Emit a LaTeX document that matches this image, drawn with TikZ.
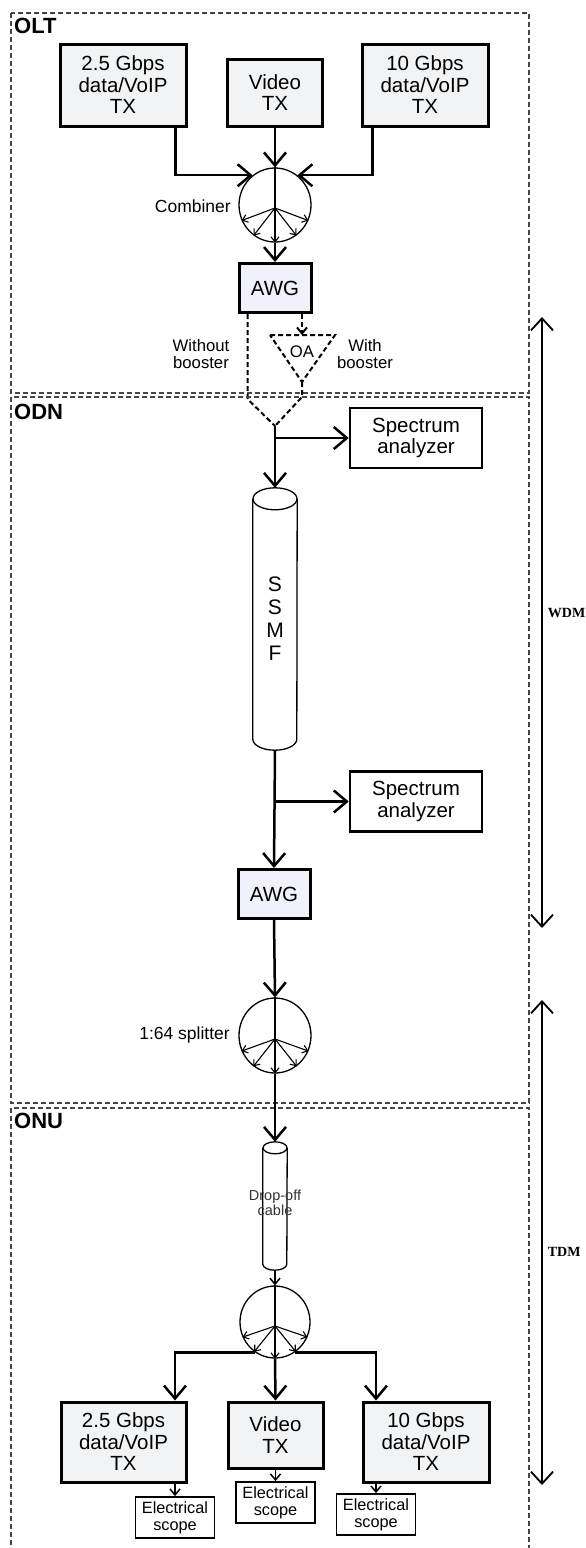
\documentclass[tikz,border=0pt]{standalone}
\usepackage{fontspec}
\setmainfont{Liberation Sans}
\newfontfamily\labelserif{Liberation Serif}
\usetikzlibrary{arrows.meta,shapes.geometric}

\definecolor{txfill}{RGB}{242,243,245}
\definecolor{awgfill}{RGB}{241,241,251}
\definecolor{zonegray}{RGB}{70,70,70}

\tikzset{
  zone/.style={draw=zonegray, line width=1.3pt, dash pattern=on 5pt off 3pt},
  zonetitle/.style={anchor=west, inner sep=0pt, font=\fontsize{22}{24}\selectfont\bfseries},
  txbox/.style={draw, line width=3pt, fill=txfill, align=center, inner sep=0pt, font=\fontsize{20.5}{21.5}\selectfont},
  awgbox/.style={draw, line width=3pt, fill=awgfill, minimum width=72pt, minimum height=49pt, inner sep=0pt, font=\fontsize{20.5}{22}\selectfont},
  specbox/.style={draw, line width=2.5pt, align=center, minimum width=132pt, minimum height=60pt, inner sep=0pt, font=\fontsize{20.5}{21.5}\selectfont},
  scopebox/.style={draw, line width=1.8pt, align=center, minimum width=79pt, minimum height=41pt, inner sep=0pt, font=\fontsize{16.3}{17}\selectfont},
  coupler/.style={draw, ellipse, line width=1.3pt, minimum width=72pt, minimum height=74pt, inner sep=0pt},
  fibreline/.style={line width=1.3pt},
  lbl/.style={inner sep=0pt, align=center, font=\fontsize{17.5}{18}\selectfont},
  smalllbl/.style={inner sep=0pt, align=center, font=\fontsize{16.7}{17}\selectfont},
  sig/.style={line width=2.5pt, -{Straight Barb[length=13pt,width=22pt]}},
  thinsig/.style={line width=1.5pt, -{Straight Barb[length=6pt,width=10pt]}},
  fanarrow/.style={line width=1.1pt, -{Straight Barb[length=5pt,width=8pt]}},
  boostpath/.style={line width=2pt, dash pattern=on 5pt off 3pt},
  spanarrow/.style={line width=1.8pt, {Straight Barb[length=12pt,width=22pt]}-{Straight Barb[length=12pt,width=22pt]}},
  spanlbl/.style={right=5pt, inner sep=0pt, font={\labelserif\bfseries\fontsize{14}{14}\selectfont}},
}

\begin{document}
\begin{tikzpicture}[x=1pt, y=-1pt]
  \clip (0,0) rectangle (586,1548);

  % OLT
  \draw [zone] (11,13) rectangle (529,393);
  \node [zonetitle] (olt) at (14,26) {OLT};
  \node [txbox, minimum width=126pt, minimum height=82pt] (tx25) at (123,85) {2.5 Gbps\\data/VoIP\\TX};
  \node [txbox, minimum width=95pt, minimum height=67pt] (txvid) at (275,92.5) {Video\\TX};
  \node [txbox, minimum width=126pt, minimum height=82pt] (tx10) at (425,85) {10 Gbps\\data/VoIP\\TX};
  \node [coupler] (comb) at (275,205) {};
  \coordinate (combhub) at ([yshift=-3pt]comb.center);
  \node [lbl, anchor=east] (combtxt) at (231,206) {Combiner};
  \node [awgbox] (awg1) at (275,288) {AWG};

  \draw [sig] ([xshift=-12pt]tx25.south east) |- (comb.127);
  \draw [sig] (txvid.south) -- (comb.north);
  \draw [sig] ([xshift=12pt]tx10.south west) |- (comb.53);
  \draw [line width=1.3pt] (comb.north) -- (combhub);
  \foreach \a in {205,235,270,305,335}
    \draw [fanarrow] (combhub) -- (comb.\a);
  \draw [sig] (comb.south) -- (awg1.north);

  % booster branch
  \coordinate (oatl) at (270,335);
  \coordinate (oatr) at (335,335);
  \coordinate (oaapex) at (302,382);
  \coordinate (join) at (275,426);
  \draw [boostpath] (oatl) -- (oatr) -- (oaapex) -- cycle;
  \node [smalllbl] (oa) at (302,352) {OA};
  \node [smalllbl] (nobst) at (201,354) {Without\\booster};
  \node [smalllbl] (wbst) at (365,354) {With\\booster};
  \draw [boostpath, -{Straight Barb[length=6pt,width=10pt]}] (awg1.south -| oa) -- (oa |- oatl);
  \draw [boostpath] ([xshift=10pt]awg1.south west) -- ++(0,85) -- (join);
  \draw [boostpath] (oaapex) -- ++(0,15) -- (join);

  % ODN
  \draw [zone] (11,397) rectangle (529,1103);
  \node [zonetitle] (odn) at (14,411.5) {ODN};
  \node [specbox] (spec1) at (416,438) {Spectrum\\analyzer};
  \node [minimum width=44pt, minimum height=262pt, inner sep=0pt, align=center,
         font=\fontsize{21}{23}\selectfont] (ssmf) at (275,619) {S\\S\\M\\F};
  \draw [fibreline] ([yshift=-11pt]ssmf.north west) -- ([yshift=11pt]ssmf.south west)
    arc [start angle=180, end angle=360, x radius=22pt, y radius=11pt]
    -- ([yshift=-11pt]ssmf.north east);
  \draw [fibreline] ([yshift=-11pt]ssmf.north) ellipse [x radius=22pt, y radius=11pt];
  \node [specbox] (spec2) at (416,801.5) {Spectrum\\analyzer};
  \node [awgbox] (awg2) at (274,894) {AWG};
  \node [coupler, minimum height=75pt] (split) at (275,1035.5) {};
  \coordinate (splithub) at ([yshift=-3.5pt]split.center);
  \node [lbl, anchor=east] (splittxt) at (230,1035) {1:64 splitter};

  \draw [sig] (join |- spec1) -- (spec1.west);
  \draw [line width=2.5pt] (join) -- ++(0,4);
  \draw [sig] (join) -- (ssmf.north);
  \draw [sig] (ssmf.south |- spec2) -- (spec2.west);
  \draw [sig] (ssmf.south) -- (awg2.north);
  \draw [sig] (awg2.south) -- (split.north);
  \draw [line width=1.3pt] (split.north) -- (splithub);
  \foreach \a in {205,235,270,305,335}
    \draw [fanarrow] (splithub) -- (split.\a);

  % ONU
  \draw [zone] (11,1108) rectangle (529,1570);
  \node [zonetitle] (onu) at (14,1121) {ONU};
  \node [minimum width=24pt, minimum height=128pt, inner sep=0pt] (cable) at (275,1206) {};
  \draw [fibreline] ([yshift=-6pt]cable.north west) -- ([yshift=6pt]cable.south west)
    arc [start angle=180, end angle=360, x radius=12pt, y radius=6pt]
    -- ([yshift=-6pt]cable.north east);
  \draw [fibreline] ([yshift=-6pt]cable.north) ellipse [x radius=12pt, y radius=6pt];
  \node [inner sep=0pt, align=center, text=black!80, font=\fontsize{14.5}{14.5}\selectfont] (cabletxt) at (275,1203) {Drop-off\\cable};
  \node [coupler, minimum width=70pt, minimum height=72pt] (demux) at (275,1322) {};
  \coordinate (demuxhub) at ([yshift=-4pt]demux.center);
  \node [txbox, minimum width=125pt, minimum height=80pt] (rx25) at (123.5,1442) {2.5 Gbps\\data/VoIP\\TX};
  \node [txbox, minimum width=95pt, minimum height=66pt] (rxvid) at (275.5,1435) {Video\\TX};
  \node [txbox, minimum width=126pt, minimum height=80pt] (rx10) at (426,1442) {10 Gbps\\data/VoIP\\TX};
  \node [scopebox] (sc25) at (175,1517.5) {Electrical\\scope};
  \node [scopebox] (scvid) at (275.5,1502.5) {Electrical\\scope};
  \node [scopebox] (sc10) at (376,1514.5) {Electrical\\scope};

  \draw [sig] (split.south) -- (cable.north);
  \draw [thinsig] (cable.south) -- (demux.north);
  \draw [line width=1.3pt] (demux.north) -- (demuxhub);
  \foreach \a in {205,235,270,305,335}
    \draw [fanarrow] (demuxhub) -- (demux.\a);
  \draw [sig] (demux.237) -| (sc25.north |- rx25.north);
  \draw [sig] (demux.south) -- (rxvid.north);
  \draw [sig] (demux.303) -| (sc10.north |- rx10.north);
  \draw [thinsig] (sc25.north |- rx25.south) -- (sc25.north);
  \draw [thinsig] (rxvid.south) -- (scvid.north);
  \draw [thinsig] (sc10.north |- rx10.south) -- (sc10.north);

  % WDM / TDM spans
  \coordinate (wdmtop) at (542,317);
  \coordinate (wdmbot) at (542,928);
  \coordinate (tdmtop) at (542,1000);
  \coordinate (tdmbot) at (542,1485);
  \draw [spanarrow] (wdmtop) -- node [spanlbl, pos=0.485] (wdm) {WDM} (wdmbot);
  \draw [spanarrow] (tdmtop) -- node [spanlbl, pos=0.52] (tdm) {TDM} (tdmbot);
\end{tikzpicture}
\end{document}
